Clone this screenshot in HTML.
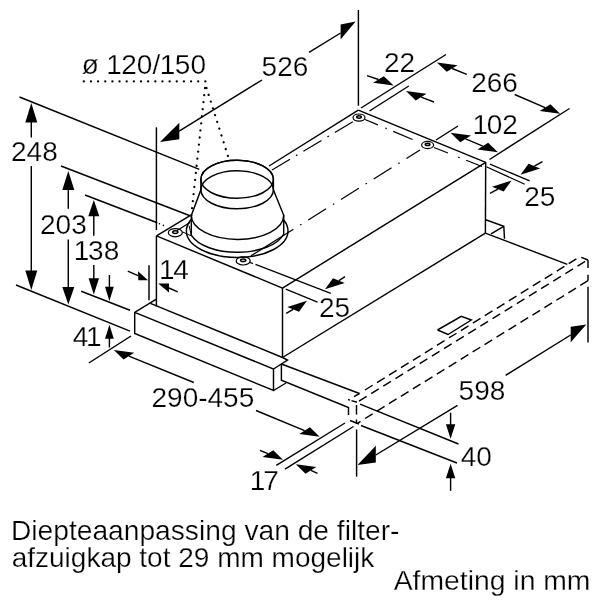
<!DOCTYPE html>
<html><head><meta charset="utf-8"><title>Afmeting</title>
<style>
html,body{margin:0;padding:0;background:#fff;}
body{width:600px;height:600px;overflow:hidden;}
svg{display:block;font-family:"Liberation Sans",Arial,Helvetica,sans-serif;}
svg line,svg polyline,svg path,svg ellipse{fill:none;stroke:#000;stroke-linecap:butt;stroke-linejoin:miter;}
svg .ah{fill:#000;stroke:none;}
svg .w{fill:#fff;}
svg text{fill:#000;stroke:#fff;stroke-width:0.25px;}
</style></head><body>
<svg width="600" height="600" viewBox="0 0 600 600">
<rect x="0" y="0" width="600" height="600" fill="#fff"/>
<line x1="156.5" y1="235.9" x2="282.5" y2="288.1" stroke-width="1.45" />
<line x1="282.5" y1="288.1" x2="485.7" y2="162.3" stroke-width="1.45" />
<line x1="358.3" y1="110.2" x2="485.7" y2="162.3" stroke-width="1.45" />
<line x1="156.5" y1="235.9" x2="190" y2="215.7" stroke-width="1.45" />
<line x1="269" y1="166" x2="358.3" y2="110.2" stroke-width="1.45" />
<line x1="156.4" y1="127.3" x2="156.4" y2="230" stroke-width="1.45" />
<line x1="156.4" y1="235.9" x2="156.4" y2="306.5" stroke-width="1.45" />
<line x1="282.5" y1="288.1" x2="282.5" y2="357.5" stroke-width="1.45" />
<line x1="485.7" y1="162.3" x2="485.4" y2="233.1" stroke-width="1.45" />
<line x1="282.5" y1="357.5" x2="485.4" y2="233.1" stroke-width="1.45" />
<polyline points="156.4,299.2 134.7,312.3 134.7,333.5 273.5,390.5 273.5,369 134.7,312.3" stroke-width="1.45" />
<line x1="150.4" y1="303.3" x2="282.5" y2="357.5" stroke-width="1.45" />
<polyline points="282.5,357.5 287.5,360 273.5,369" stroke-width="1.45" />
<line x1="273.5" y1="390.5" x2="286" y2="383" stroke-width="1.45" />
<polyline points="281.4,364 281.4,380.2 348.5,407.5 348.5,415" stroke-width="1.45" />
<line x1="281.4" y1="364" x2="359.5" y2="393.5" stroke-width="1.45" />
<line x1="485.4" y1="233.1" x2="567.3" y2="264.4" stroke-width="1.45" />
<polyline points="485.7,219.7 503.8,226.3 504.5,238.8" stroke-width="1.45" />
<line x1="491" y1="233.8" x2="503.8" y2="226.3" stroke-width="1.45" />
<polyline points="437.5,330 461.3,316.3 471.3,320 448,334.5 437.5,330" stroke-width="1.45" />
<line x1="365" y1="390" x2="576.9" y2="258.6" stroke-width="1.45" stroke-dasharray="9 5.1"/>
<line x1="359.5" y1="393.5" x2="354" y2="396.7" stroke-width="1.45" />
<line x1="359" y1="401.1" x2="585.3" y2="261.3" stroke-width="1.45" stroke-dasharray="9 5.27"/>
<line x1="365" y1="418.5" x2="588" y2="280.7" stroke-width="1.45" stroke-dasharray="9 5.06"/>
<line x1="357.5" y1="423.3" x2="360.5" y2="421.4" stroke-width="1.45" />
<line x1="581.3" y1="257.3" x2="588" y2="260" stroke-width="1.45" />
<line x1="588" y1="260" x2="588" y2="268" stroke-width="1.45" />
<line x1="588" y1="274.7" x2="588" y2="280.7" stroke-width="1.45" />
<line x1="348" y1="399.5" x2="350" y2="400.1" stroke-width="1.45" />
<line x1="351.5" y1="400.6" x2="357" y2="402.3" stroke-width="1.45" />
<line x1="356.5" y1="405" x2="356.5" y2="414.5" stroke-width="1.45" />
<line x1="356.5" y1="419.5" x2="356.5" y2="424" stroke-width="1.45" />
<line x1="350" y1="420.5" x2="359" y2="424" stroke-width="1.45" />
<ellipse cx="237.2" cy="231" rx="50.8" ry="26.5" stroke-width="1.45" class="w"/>
<path d="M191.3,215.5 L200.9,189.75 L200.9,179.3 A36.25,19 0 0 1 273.4,179.3 L273.4,189.75 L283.7,215.3 L283.7,234 A48,24.3 0 0 1 191.3,235.2 Z" stroke-width="1.45" class="w"/>
<path d="M191.3,215.5 A46.2,24 0 0 0 283.7,215.3" stroke-width="1.45" />
<ellipse cx="237.15" cy="179.3" rx="36.25" ry="19" stroke-width="1.45" />
<ellipse cx="237.15" cy="189.8" rx="36.25" ry="19" stroke-width="1.45" />
<polyline points="182.3,231.8 191.5,236 189,225.5" stroke-width="1.0" />
<ellipse cx="175.3" cy="232.7" rx="7.0" ry="4.1" stroke-width="1.2" />
<ellipse cx="175.3" cy="232.1" rx="2.6" ry="1.3" stroke-width="1.5" />
<ellipse cx="243.2" cy="260.9" rx="7.0" ry="4.1" stroke-width="1.2" />
<ellipse cx="243.2" cy="260.29999999999995" rx="2.6" ry="1.3" stroke-width="1.5" />
<ellipse cx="359" cy="117.6" rx="6.0" ry="3.6" stroke-width="1.2" />
<ellipse cx="359" cy="117.0" rx="2.3" ry="1.2" stroke-width="1.5" />
<ellipse cx="427.6" cy="145" rx="6.0" ry="3.6" stroke-width="1.2" />
<ellipse cx="427.6" cy="144.4" rx="2.3" ry="1.2" stroke-width="1.5" />
<line x1="272" y1="170" x2="354" y2="121" stroke-width="1.25" stroke-dasharray="21 7 1.6 7"/>
<line x1="177" y1="230.5" x2="190" y2="222.5" stroke-width="1.25" />
<line x1="365" y1="119.5" x2="421" y2="143" stroke-width="1.25" stroke-dasharray="14 8 1.6 7 21 40"/>
<line x1="434" y1="147.5" x2="482" y2="166.5" stroke-width="1.25" stroke-dasharray="15 11 1.6 7 21 7"/>
<line x1="420" y1="150" x2="247" y2="258.3" stroke-width="1.25" stroke-dasharray="16 8 1.6 8 21 8 1.6 8 21 8 1.6 8 21 8 1.6 8 50"/>
<line x1="249" y1="262" x2="253" y2="263.6" stroke-width="1.25" />
<line x1="255.5" y1="264.3" x2="330.8" y2="293.3" stroke-width="1.25" />
<line x1="285.8" y1="289.2" x2="317.5" y2="302.2" stroke-width="1.25" />
<line x1="490" y1="164.2" x2="529.7" y2="180.8" stroke-width="1.25" />
<line x1="486.3" y1="166.7" x2="524.7" y2="184.2" stroke-width="1.25" />
<line x1="19.5" y1="97" x2="199.3" y2="169.3" stroke-width="1.45" />
<line x1="16" y1="285" x2="130" y2="331.2" stroke-width="1.45" />
<line x1="61" y1="166" x2="190" y2="215.7" stroke-width="1.45" />
<line x1="85" y1="195" x2="157.3" y2="222.7" stroke-width="1.45" />
<line x1="81.2" y1="291.2" x2="130" y2="310.2" stroke-width="1.45" />
<line x1="88.8" y1="363" x2="131" y2="336" stroke-width="1.45" />
<line x1="149" y1="265.2" x2="149" y2="300.3" stroke-width="1.45" />
<line x1="31.3" y1="120" x2="31.3" y2="137.5" stroke-width="1.45" />
<line x1="31.3" y1="166" x2="31.3" y2="272" stroke-width="1.45" />
<polygon class="ah" points="31.3,103 25.3,122.5 37.3,122.5"/>
<polygon class="ah" points="31.3,290 25.3,270.5 37.3,270.5"/>
<line x1="68.3" y1="188" x2="68.3" y2="208.8" stroke-width="1.45" />
<line x1="68.3" y1="239.5" x2="68.3" y2="289" stroke-width="1.45" />
<polygon class="ah" points="68.3,171 62.3,190 74.3,190"/>
<polygon class="ah" points="68.3,304.5 62.3,287 74.3,287"/>
<line x1="93.8" y1="215" x2="93.8" y2="235.8" stroke-width="1.45" />
<line x1="93.8" y1="265" x2="93.8" y2="279" stroke-width="1.45" />
<polygon class="ah" points="93.8,200 88.3,216.3 99.3,216.3"/>
<polygon class="ah" points="93.8,294.4 88.6,278.2 99,278.2"/>
<line x1="109.4" y1="275" x2="109.4" y2="287.5" stroke-width="1.45" />
<polygon class="ah" points="109.4,301 105,286.8 113.8,286.8"/>
<line x1="109.4" y1="338" x2="109.4" y2="347.5" stroke-width="1.45" />
<polygon class="ah" points="109.4,324.7 105,338.8 113.8,338.8"/>
<line x1="127.8" y1="271.2" x2="138" y2="275.7" stroke-width="1.45" />
<polygon class="ah" points="148,280.3 138,271.2 138.3,280.3"/>
<line x1="169" y1="288" x2="177.7" y2="291.8" stroke-width="1.45" />
<polygon class="ah" points="158.2,283.6 169,283.6 169,292.6"/>
<line x1="178.7" y1="131.3" x2="262" y2="80" stroke-width="1.45" />
<polygon class="ah" points="160,142 179.3,122.7 179.3,139.3"/>
<line x1="309" y1="52.4" x2="340.6" y2="33" stroke-width="1.45" />
<polygon class="ah" points="355.6,21.6 340.6,24.4 340.6,39.6"/>
<line x1="358.4" y1="10" x2="358.4" y2="105.7" stroke-width="1.45" />
<line x1="361" y1="108" x2="446" y2="54.5" stroke-width="1.45" />
<line x1="369.5" y1="111" x2="408.8" y2="86" stroke-width="1.45" />
<line x1="569.5" y1="108.5" x2="489.5" y2="159.5" stroke-width="1.45" />
<polygon class="ah" points="393.6,85.6 383.85,76.16 373.14,82.8"/>
<line x1="367" y1="75.6" x2="378.49201828683925" y2="79.48126740616988" stroke-width="1.45" />
<polygon class="ah" points="406,91 426.46,93.8 415.75,100.44"/>
<line x1="434" y1="102" x2="421.10798171316077" y2="97.11873259383012" stroke-width="1.45" />
<polygon class="ah" points="437,62.4 457.46,65.2 446.75,71.84"/>
<line x1="466.8" y1="74.4" x2="452.10798171316077" y2="68.51873259383012" stroke-width="1.45" />
<polygon class="ah" points="560.2,113.7 550.45,104.26 539.74,110.9"/>
<line x1="514.7" y1="94.5" x2="545.0920182868392" y2="107.58126740616989" stroke-width="1.45" />
<line x1="436" y1="140" x2="458" y2="126" stroke-width="1.45" />
<polygon class="ah" points="450.5,132.8 470.96,135.6 460.25,142.24"/>
<polygon class="ah" points="497.9,152.2 488.15,142.76 477.44,149.4"/>
<line x1="465.60798171316077" y1="138.91873259383013" x2="482.7920182868392" y2="146.08126740616987" stroke-width="1.45" />
<polygon class="ah" points="520.5,174.7 540.19,168.48 528.51,163.75"/>
<line x1="542.5" y1="161.7" x2="534.3534138749118" y2="166.1108833975547" stroke-width="1.45" />
<polygon class="ah" points="511.7,180.5 503.69,191.45 492.01,186.72"/>
<line x1="490" y1="193.3" x2="497.8465861250882" y2="189.0891166024453" stroke-width="1.45" />
<polygon class="ah" points="325,289.2 344.69,282.98 333.01,278.25"/>
<line x1="345" y1="276.7" x2="338.8534138749118" y2="280.6108833975547" stroke-width="1.45" />
<polygon class="ah" points="307,300.8 298.99,311.75 287.31,307.02"/>
<line x1="286.2" y1="313.3" x2="293.1465861250882" y2="309.3891166024453" stroke-width="1.45" />
<polygon class="ah" points="113.8,350 134.26,352.8 123.55,359.44"/>
<line x1="193.8" y1="382.5" x2="128.90798171316078" y2="356.11873259383015" stroke-width="1.45" />
<polygon class="ah" points="319.7,436.7 309.95,427.26 299.24,433.9"/>
<line x1="256" y1="410.5" x2="304.5920182868392" y2="430.58126740616984" stroke-width="1.45" />
<line x1="276.3" y1="465.3" x2="345" y2="423" stroke-width="1.45" />
<line x1="285" y1="469.2" x2="353.5" y2="426.5" stroke-width="1.45" />
<polygon class="ah" points="283,459.7 273.25,450.26 262.54,456.9"/>
<line x1="260" y1="450.3" x2="267.89201828683923" y2="453.58126740616984" stroke-width="1.45" />
<polygon class="ah" points="295.8,464.2 316.26,467.0 305.55,473.64"/>
<line x1="317.5" y1="473.3" x2="310.9079817131608" y2="470.31873259383013" stroke-width="1.45" />
<line x1="360" y1="404.2" x2="458.5" y2="444" stroke-width="1.45" />
<line x1="361" y1="425.5" x2="457" y2="463" stroke-width="1.45" />
<line x1="450.6" y1="412.7" x2="450.6" y2="425" stroke-width="1.45" />
<polygon class="ah" points="450.6,438.8 445.9,424.2 455.3,424.2"/>
<line x1="450.6" y1="477" x2="450.6" y2="490.8" stroke-width="1.45" />
<polygon class="ah" points="450.6,463.7 445.9,478.3 455.3,478.3"/>
<line x1="356.6" y1="429.5" x2="356.6" y2="476.7" stroke-width="1.45" />
<line x1="588" y1="286.7" x2="588" y2="342.5" stroke-width="1.45" />
<line x1="375.8" y1="455" x2="457.5" y2="405.4" stroke-width="1.45" />
<polygon class="ah" points="357.5,465 375.8,445.8 375.8,462.5"/>
<line x1="505.6" y1="375.3" x2="570.7" y2="335" stroke-width="1.45" />
<polygon class="ah" points="586.3,324.5 570.7,326.7 570.7,342.3"/>
<line x1="83.8" y1="81.4" x2="206" y2="81.4" stroke-width="2.3" stroke-dasharray="0.01 7.14" style="stroke-linecap:round"/>
<line x1="205.0" y1="88" x2="191.3" y2="215.5" stroke-width="2.3" stroke-dasharray="0.01 7.1" style="stroke-linecap:round"/>
<line x1="206.5" y1="88" x2="230" y2="162.5" stroke-width="2.3" stroke-dasharray="0.01 7.1" style="stroke-linecap:round"/>
<circle class="ah" cx="159.4" cy="223.8" r="0.8"/><circle class="ah" cx="163.4" cy="225.4" r="0.8"/>
<g style="will-change:opacity">
<text transform="translate(81.7,74.2) scale(1.0,1)" font-size="28" dx="0 0 -0.45 -0.45 0 0 -0.45 -0.45 0" >ø 120/150</text>
<text transform="translate(261.6,75.6) scale(1.0,1)" font-size="28" >526</text>
<text transform="translate(11.0,160.5) scale(1.0,1)" font-size="28" >248</text>
<text transform="translate(40.0,233.5) scale(1.0,1)" font-size="28" >203</text>
<text transform="translate(73.8,259.8) scale(1.0,1)" font-size="28" dx="0 -1.3 0" >138</text>
<text transform="translate(159.0,278.8) scale(1.0,1)" font-size="28" dx="0 -1.3" >14</text>
<text transform="translate(72.7,346.4) scale(1.0,1)" font-size="28" dx="0 -2.3" >41</text>
<text transform="translate(384.0,72) scale(1.0,1)" font-size="28" >22</text>
<text transform="translate(471.2,91.5) scale(1.0,1)" font-size="28" >266</text>
<text transform="translate(472.5,133.5) scale(1.0,1)" font-size="28" dx="0 -1.3 0" >102</text>
<text transform="translate(524.3,206.3) scale(1.0,1)" font-size="28" >25</text>
<text transform="translate(319.0,316.7) scale(1.0,1)" font-size="28" >25</text>
<text transform="translate(151.5,407.3) scale(1.0,1)" font-size="28" >290-455</text>
<text transform="translate(249.7,489.7) scale(1.0,1)" font-size="28" dx="0 -2.0" >17</text>
<text transform="translate(460.7,465.8) scale(1.0,1)" font-size="28" >40</text>
<text transform="translate(458.6,399.8) scale(1.0,1)" font-size="28" >598</text>
<text transform="translate(10.99,540) scale(1.007,1)" font-size="28" >Diepteaanpassing van de filter-</text>
<text transform="translate(11.7,567.4) scale(1.0,1)" font-size="28" >afzuigkap tot 29 mm mogelijk</text>
<text transform="translate(393.69,589.7) scale(1.012,1)" font-size="28" >Afmeting in mm</text>
</g>
</svg>
</body></html>
